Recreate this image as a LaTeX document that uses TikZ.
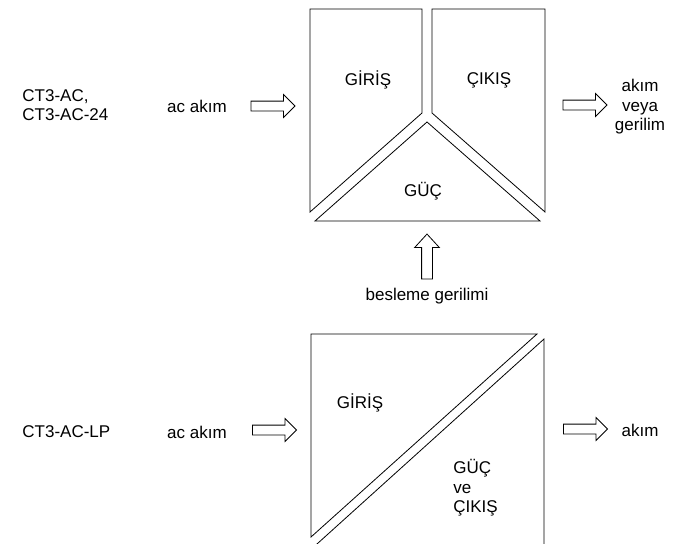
\documentclass[tikz,border=0pt]{standalone}
\usepackage{fontspec}
\setmainfont{Liberation Sans}
\usetikzlibrary{shapes.arrows}
\begin{document}
\begin{tikzpicture}[x=1pt,y=-1pt,line width=0.8pt,
  blockarrow/.style={draw, single arrow, single arrow head extend=6.5pt,
    single arrow tip angle=90, inner xsep=0pt, inner ysep=4.5pt, minimum height=44pt},
  lbl/.style={inner sep=0pt, font=\fontsize{17}{19.5}\selectfont}]
\useasboundingbox (0,0) rectangle (676,543);
\clip (0,0) rectangle (676,543);

% upper converter
\draw (310,9) -- (422,9) -- (422,113) -- (310,212) -- cycle;
\draw (432,9) -- (545,9) -- (545,212) -- (432,113) -- cycle;
\draw (427,122) -- (540,221) -- (315,221) -- cycle;

\node[lbl, anchor=west, align=left] (dev1) at (22,105) {CT3-AC,\\CT3-AC-24};
\node[lbl] (in1) at (197,106) {ac akım};
\node[blockarrow] (ain1) at (270.5,106) {};
\node[lbl] (gir1) at (368,80) {GİRİŞ};
\node[lbl] (cik1) at (489,80) {ÇIKIŞ};
\node[lbl] (guc1) at (423,191) {GÜÇ};
\node[blockarrow] (aout1) at (582.5,105) {};
\node[lbl, align=center] (out1) at (640,107) {akım\\veya\\gerilim};
\node[blockarrow, rotate=90, minimum height=45pt, inner ysep=5pt,
  single arrow head extend=7pt, single arrow tip angle=85] (asup) at (427,259.5) {};
\node[lbl] (sup) at (427,296) {besleme gerilimi};

% lower converter
\draw (311,334) -- (537,334) -- (311,537) -- cycle;
\draw (307,553) -- (544,339) -- (544,553);

\node[lbl, anchor=west] (dev2) at (22,432) {CT3-AC-LP};
\node[lbl] (in2) at (197,432) {ac akım};
\node[blockarrow] (ain2) at (272,430) {};
\node[lbl] (gir2) at (360,403) {GİRİŞ};
\node[lbl, anchor=west, align=left] (gc2) at (453,488) {GÜÇ\\ve\\ÇIKIŞ};
\node[blockarrow] (aout2) at (583,429) {};
\node[lbl] (out2) at (640,430) {akım};
\end{tikzpicture}
\end{document}
